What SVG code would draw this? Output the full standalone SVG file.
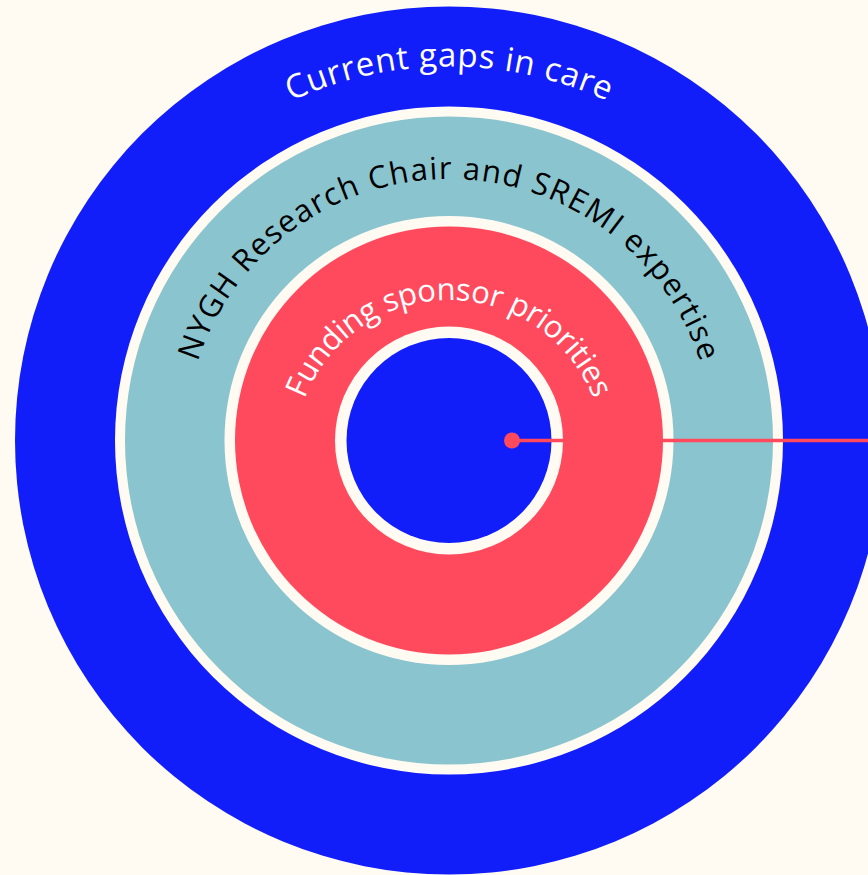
<svg xmlns="http://www.w3.org/2000/svg" width="868" height="875" viewBox="0 0 868 875">
  <style>
    .blue { fill: #121EFA; }
    .cream { fill: #FFFBF2; }
    .teal { fill: #8AC4CE; }
    .red { fill: #FF4A5E; }
    .lbl { font-family: "Open Sans", "DejaVu Sans", sans-serif; font-weight: 400; }
    .conn { stroke: #FF4A5E; stroke-width: 3.4; fill: none; }
  </style>
  <defs>
    <path id="arcCurrent" d="M 70.5 445 A 378.5 378.5 0 0 1 827.5 445"/>
    <path id="arcNygh" d="M 185 443 A 264 264 0 0 1 713 443"/>
    <path id="arcFunding" d="M 294 455 A 155 155 0 0 1 604 455"/>
  </defs>
  <rect width="868" height="875" class="cream"/>

  <g id="ring-current-gaps">
    <circle cx="449" cy="440.5" r="434" class="blue"/>
    <text class="lbl" font-size="33" fill="#FFFFFF" text-anchor="middle"><textPath href="#arcCurrent" startOffset="50%" textLength="326" lengthAdjust="spacing">Current gaps in care</textPath></text>
  </g>

  <g id="ring-nygh-expertise">
    <circle cx="449" cy="440.5" r="334" class="cream"/>
    <circle cx="449" cy="440.5" r="324" class="teal"/>
    <text class="lbl" font-size="31" fill="#000000" text-anchor="middle"><textPath href="#arcNygh" startOffset="50%" textLength="664" lengthAdjust="spacing">NYGH Research Chair and SREMI expertise</textPath></text>
  </g>

  <g id="ring-funding-priorities">
    <circle cx="449" cy="440.5" r="224.5" class="cream"/>
    <circle cx="449" cy="440.5" r="214" class="red"/>
    <text class="lbl" font-size="31" fill="#FFFFFF" text-anchor="middle"><textPath href="#arcFunding" startOffset="50%" textLength="372" lengthAdjust="spacing">Funding sponsor priorities</textPath></text>
  </g>

  <g id="core">
    <circle cx="449" cy="440.5" r="114" class="cream"/>
    <circle cx="449" cy="440.5" r="102.5" class="blue"/>
  </g>

  <g id="connectors">
    <line x1="512" y1="440.5" x2="868" y2="440.5" class="conn"/>
    <circle cx="512" cy="440.5" r="8" fill="#FF4A5E"/>
  </g>
</svg>
